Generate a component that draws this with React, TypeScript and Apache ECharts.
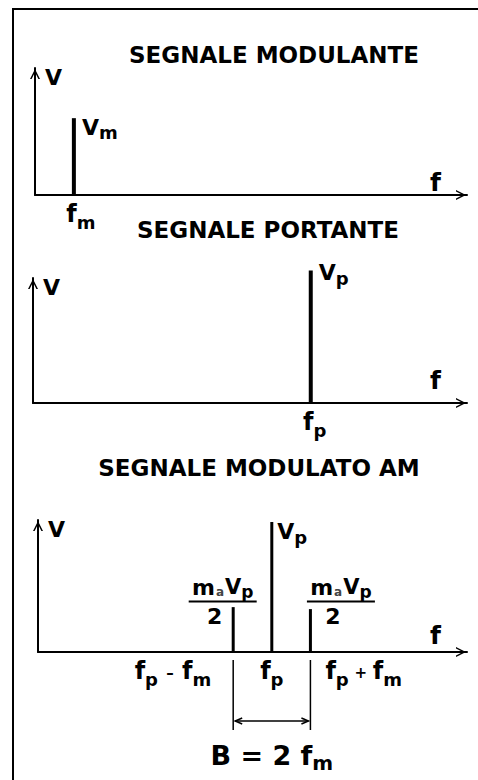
import React, { useEffect, useRef } from "react";
import * as echarts from "echarts";

const FONT = "DejaVu Sans";

// ---- data ----
const titles = ["SEGNALE MODULANTE", "SEGNALE PORTANTE", "SEGNALE MODULATO AM"];
const axisNamesY = ["V", "V", "V"];
const axisNamesX = ["f", "f", "f"];

// modulating signal spectrum
const modFreq = [0.9];
const modAmp = [6.05];
const modPeakLabels = ["{V|V}{s|m}"];
const modTickLabels = ["{g14| }{f|f}{fs|m}"];

// carrier spectrum
const carFreq = [6.4];
const carAmp = [10.6];
const carPeakLabels = ["{V|V}{s|p}"];
const carTickLabels = ["{g8| }{f|f}{fs|p}"];

// AM modulated spectrum
const amFreq = [4.55, 5.45, 6.35];
const amAmp = [3.4, 9.85, 3.25];
const fraction = "{nm|m}{na|a}{nV|V}{np|p}\n{hr| }\n{two|2}";
const amPeakLabels = [fraction, "{V|V}{s|p}", fraction];
const amTickLabels = [
  "{f|f}{fs|p}{o|–}{f|f}{fs|m}",
  "{f|f}{fs|p}",
  "{f|f}{fs|p}{o|+}{f|f}{fs|m}",
];
const bandwidthLabel = "{B|B = 2 f}{Bs|m}";

const X_MIN = 0;
const X_MAX = 10;
const Y_MIN = 0;
const Y_MAX = 10;

// ---- styles ----
const b = { fontFamily: FONT, fontWeight: "bold" as const, color: "#000" };
const rich: any = {
  V: { ...b, fontSize: 22, lineHeight: 26 },
  s: { ...b, fontSize: 18, lineHeight: 26, padding: [11, 0, 0, 0] },
  f: { ...b, fontSize: 24, lineHeight: 30 },
  fs: { ...b, fontSize: 18, lineHeight: 30, padding: [16, 0, 0, 0] },
  o: { ...b, fontSize: 15, lineHeight: 30, width: 24, align: "center", padding: [4, 0, 0, 0] },
  g14: { width: 14, fontSize: 10 },
  g8: { width: 8, fontSize: 10 },
  nm: { ...b, fontSize: 22, lineHeight: 24, align: "center" },
  na: { ...b, fontSize: 12, lineHeight: 24, padding: [10, 1, 0, 1], align: "center", color: "#444" },
  nV: { ...b, fontSize: 21, lineHeight: 24, align: "center" },
  np: { ...b, fontSize: 17, lineHeight: 24, padding: [10, 0, 0, 0], align: "center" },
  hr: { width: 68, height: 2, lineHeight: 5, fontSize: 2, backgroundColor: "#000", align: "center" },
  two: { ...b, fontSize: 22, lineHeight: 24, padding: [0, 16, 0, 0], align: "center" },
  B: { ...b, fontSize: 27, lineHeight: 32 },
  Bs: { ...b, fontSize: 20, lineHeight: 32, padding: [16, 0, 0, 0] },
};

const ARROW = "path://M5,0 L10,10 L8.4,10 L5,3.2 L1.6,10 L0,10 Z";

function makeXAxis(gridIndex: number, ticks: number[], labels: string[], namePadBottom: number) {
  return {
    type: "value",
    gridIndex,
    min: X_MIN,
    max: X_MAX,
    name: axisNamesX[gridIndex],
    nameLocation: "end",
    nameGap: -26,
    nameTextStyle: {
      fontFamily: FONT,
      fontWeight: "bold",
      fontSize: 25,
      lineHeight: 26,
      color: "#000",
      align: "right",
      verticalAlign: "bottom",
      padding: [0, 0, namePadBottom, 0],
    },
    axisLine: {
      show: true,
      onZero: false,
      symbol: ["none", ARROW],
      symbolSize: [10, 12],
      symbolOffset: [0, -6],
      lineStyle: { color: "#000", width: 2 },
    },
    axisTick: { show: false },
    splitLine: { show: false },
    axisLabel: {
      show: true,
      customValues: ticks,
      margin: 4,
      hideOverlap: false,
      formatter: (v: number) => {
        const i = ticks.indexOf(v);
        return i >= 0 ? labels[i] : "";
      },
      rich,
    },
  };
}

function makeYAxis(gridIndex: number) {
  return {
    type: "value",
    gridIndex,
    min: Y_MIN,
    max: Y_MAX,
    name: axisNamesY[gridIndex],
    nameLocation: "end",
    nameGap: 2,
    nameTextStyle: {
      fontFamily: FONT,
      fontWeight: "bold",
      fontSize: 22,
      lineHeight: 22,
      color: "#000",
      align: "left",
      verticalAlign: "top",
      padding: [0, 0, 0, 10],
    },
    axisLine: {
      show: true,
      onZero: false,
      symbol: ["none", ARROW],
      symbolSize: [10, 12],
      symbolOffset: [0, -6],
      lineStyle: { color: "#000", width: 2 },
    },
    axisTick: { show: false },
    axisLabel: { show: false },
    splitLine: { show: false },
  };
}

function barSeries(idx: number, freq: number[], amp: number[], labels: string[], positions: number[][], width: number) {
  return {
    type: "bar",
    xAxisIndex: idx,
    yAxisIndex: idx,
    barWidth: width,
    clip: false,
    silent: true,
    itemStyle: { color: "#000" },
    data: freq.map((f, i) => ({
      value: [f, amp[i]],
      label: {
        show: true,
        position: positions[i],
        formatter: labels[i],
        rich,
      },
    })),
  };
}

export default function App() {
  const ref = useRef<HTMLDivElement>(null);
  useEffect(() => {
    if (!ref.current) return;
    const chart = echarts.init(ref.current, null, { renderer: "svg" });
    const titleStyle = { fontFamily: FONT, fontWeight: "bold", fontSize: 23, color: "#000" };
    const option: any = {
      animation: false,
      backgroundColor: "#fff",
      textStyle: { fontFamily: FONT },
      title: [
        { text: titles[0], left: 274, top: 43, textAlign: "center", padding: 0, textStyle: titleStyle },
        { text: titles[1], left: 268, top: 218, textAlign: "center", padding: 0, textStyle: titleStyle },
        { text: titles[2], left: 259, top: 456, textAlign: "center", padding: 0, textStyle: titleStyle },
      ],
      graphic: [
        {
          type: "rect",
          shape: { x: 13, y: 9, width: 520, height: 820 },
          style: { fill: "none", stroke: "#000", lineWidth: 2 },
          silent: true,
        },
      ],
      grid: [
        { left: 35, right: 11, top: 68, height: 127, outerBoundsMode: "none", containLabel: false },
        { left: 33, right: 11, top: 278, height: 125, outerBoundsMode: "none", containLabel: false },
        { left: 38, right: 11, top: 520, height: 132, outerBoundsMode: "none", containLabel: false },
      ],
      xAxis: [
        makeXAxis(0, modFreq, modTickLabels, 0),
        makeXAxis(1, carFreq, carTickLabels, 10),
        makeXAxis(2, [amFreq[1]], [amTickLabels[1]], 4),
      ],
      yAxis: [makeYAxis(0), makeYAxis(1), makeYAxis(2)],
      series: [
        barSeries(0, modFreq, modAmp, modPeakLabels, [[10, -4]], 4),
        barSeries(1, carFreq, carAmp, carPeakLabels, [[10, -11]], 4),
        barSeries(2, amFreq, amAmp, amPeakLabels, [[-43, -32], [7, -3], [-2, -34]], 3),
        {
          type: "custom",
          xAxisIndex: 2,
          yAxisIndex: 2,
          silent: true,
          clip: false,
          data: [[amFreq[0], amFreq[2]]],
          renderItem: (_params: any, api: any) => {
            const lo = api.coord([api.value(0), Y_MIN]);
            const hi = api.coord([api.value(1), Y_MIN]);
            const y0 = lo[1];
            const x1 = lo[0];
            const x2 = hi[0];
            const ya = y0 + 69;
            const st = { stroke: "#000", lineWidth: 1.5, fill: null };
            return {
              type: "group",
              children: [
                { type: "line", shape: { x1, y1: y0 + 8, x2: x1, y2: y0 + 78 }, style: st },
                { type: "line", shape: { x1: x2, y1: y0 + 8, x2, y2: y0 + 78 }, style: st },
                { type: "line", shape: { x1: x1 + 2, y1: ya, x2: x2 - 2, y2: ya }, style: st },
                { type: "polyline", shape: { points: [[x1 + 9, ya - 3], [x1 + 2, ya], [x1 + 9, ya + 3]] }, style: st },
                { type: "polyline", shape: { points: [[x2 - 9, ya - 3], [x2 - 2, ya], [x2 - 9, ya + 3]] }, style: st },
                {
                  type: "text",
                  x: x1 - 22,
                  y: y0 + 4,
                  style: { text: amTickLabels[0], rich, align: "right", verticalAlign: "top" },
                },
                {
                  type: "text",
                  x: x2 + 15,
                  y: y0 + 4,
                  style: { text: amTickLabels[2], rich, align: "left", verticalAlign: "top" },
                },
                {
                  type: "text",
                  x: (x1 + x2) / 2,
                  y: y0 + 87,
                  style: { text: bandwidthLabel, rich, align: "center", verticalAlign: "top" },
                },
              ],
            };
          },
        },
      ],
    };
    chart.setOption(option);
    return () => chart.dispose();
  }, []);
  return (
    <div
      ref={ref}
      style={{ position: "absolute", left: 0, top: 0, width: 478, height: 780, background: "#fff" }}
    />
  );
}
